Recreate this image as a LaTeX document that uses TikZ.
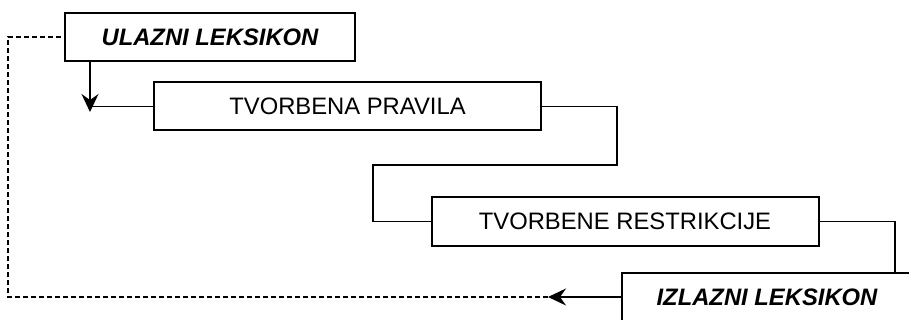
\documentclass[tikz,border=0pt]{standalone}
\usepackage{fontspec}
\setmainfont{Liberation Sans}
\usetikzlibrary{arrows.meta, positioning}

\begin{document}
\begin{tikzpicture}[x=1pt, y=-1pt,
                box/.style={draw, rectangle, line width=2pt, minimum height=48pt, inner sep=0pt, align=center, font=\fontsize{23.8}{28}\selectfont},
                lex/.style={box, minimum width=290pt, font=\fontsize{23.8}{28}\selectfont\bfseries\itshape},
                rule/.style={box, minimum width=387pt},
                link/.style={line width=1.2pt},
                back/.style={line width=1.3pt, dash pattern=on 5pt off 3pt},
                tip/.style={-{Stealth[length=18pt, width=17pt, inset=6pt]}}]
                \useasboundingbox (0,0) rectangle (909,320);
                \clip (0,0) rectangle (909,320);

                \node[lex] (ulaz) at (210,37) {ULAZNI LEKSIKON};
                \node[rule] (pravila) at (347.5,106.5) {TVORBENA PRAVILA};
                \node[rule] (restr) at (625,221.5) {TVORBENE RESTRIKCIJE};
                \node[lex] (izlaz) at (767,297) {IZLAZNI LEKSIKON};

                \coordinate (down) at (90,112);
                \coordinate (bend1) at (617,165);
                \coordinate (bend2) at (373,165);
                \coordinate (bend3) at (895,221.5);
                \coordinate (back) at (548,297);
                \coordinate (corner) at (8,37);

                \draw[link, tip] (ulaz.south -| down) -- (down);
                \draw[link] (pravila.west) -- (pravila.west -| down);
                \draw[link] (pravila.east) -| (bend1) -- (bend2) |- (restr.west);
                \draw[link] (restr.east) -- (bend3) -- (bend3 |- izlaz.north);
                \draw[link, tip] (izlaz.west) -- (back);
                \draw[back] (back) -| (corner) -- (ulaz.west);
            \end{tikzpicture}
\end{document}
